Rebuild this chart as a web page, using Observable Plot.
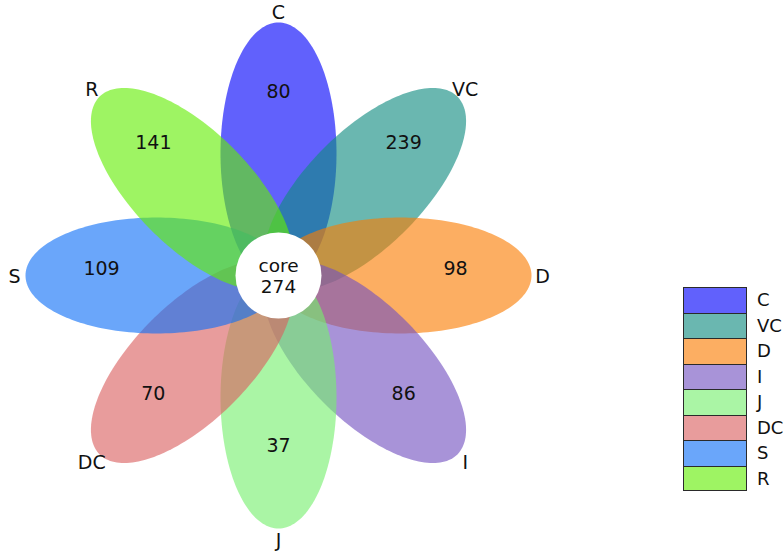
<!DOCTYPE html>
<html>
<head>
<meta charset="utf-8">
<script src="https://cdn.jsdelivr.net/npm/d3@7"></script>
<script src="https://cdn.jsdelivr.net/npm/@observablehq/plot@0.6"></script>
<style>
  html, body { margin: 0; padding: 0; background: #fff; }
  #wrap { position: relative; width: 783px; height: 552px; font-family: "DejaVu Sans", sans-serif; }
  #legend { position: absolute; left: 683px; top: 287px; }
  .row { display: flex; align-items: center; height: 25.5px; }
  .sw { box-sizing: border-box; width: 64px; height: 25.5px; border: 1.5px solid #2a2a2a; border-bottom: none; }
  .row:last-child .sw { border-bottom: 1.5px solid #2a2a2a; }
  .lab { margin-left: 10px; font-size: 18px; color: #111; }
</style>
</head>
<body>
<div id="wrap"><div id="legend"></div></div>
<script>
// Sets of the flower diagram, clockwise from the top
const sets = ["C", "VC", "D", "I", "J", "DC", "S", "R"];
// Elements unique to each set
const uniqueCounts = [80, 239, 98, 86, 37, 70, 109, 141];
// Elements shared by all sets
const coreLabel = "core";
const coreCount = 274;
// Petal colours (drawn translucent)
const petalColors = ["#0000fa", "#0f8b7f", "#fa7c02", "#7351c0", "#76ef6e", "#da5f5f", "#0f70f7", "#63ed03"];
const petalOpacity = 0.62;

// Petal geometry (pixel units)
const semiMajor = 131, semiMinor = 58, petalOffset = 122;
const coreRadius = 43, countRadius = 177, countLift = 7, nameRadius = 264;

const angleOf = i => (90 - 45 * i) * Math.PI / 180;

// Outline of each petal as a rotated ellipse
const petals = sets.map((s, i) => {
  const th = angleOf(i), c = Math.cos(th), sn = Math.sin(th);
  return d3.range(0, 181).map(k => {
    const t = (k / 180) * 2 * Math.PI;
    const u = petalOffset + semiMajor * Math.cos(t), v = semiMinor * Math.sin(t);
    return {set: s, x: u * c - v * sn, y: u * sn + v * c};
  });
});

const counts = sets.map((s, i) => ({
  set: s, n: uniqueCounts[i],
  x: countRadius * Math.cos(angleOf(i)), y: countRadius * Math.sin(angleOf(i)) + countLift
}));
const names = sets.map((s, i) => ({
  set: s,
  x: nameRadius * Math.cos(angleOf(i)), y: nameRadius * Math.sin(angleOf(i)) - 1
}));

const font = "DejaVu Sans";
const chart = Plot.plot({
  width: 783, height: 552,
  margin: 0,
  style: {background: "transparent", fontFamily: font},
  x: {domain: [-278, 505], axis: null},
  y: {domain: [-277, 275], axis: null},
  marks: [
    ...petals.map((p, i) => Plot.line(p, {
      x: "x", y: "y", curve: "linear-closed",
      fill: petalColors[i], fillOpacity: petalOpacity, stroke: "none"
    })),
    Plot.dot([{x: 0, y: 0}], {x: "x", y: "y", r: coreRadius, fill: "white", stroke: "none"}),
    Plot.text([coreLabel], {x: 0, y: 0, text: d => d, dy: -9, fontSize: 18.5, fill: "#111"}),
    Plot.text([coreCount], {x: 0, y: 0, text: d => String(d), dy: 12, fontSize: 18.5, fill: "#111"}),
    Plot.text(counts, {x: "x", y: "y", text: d => String(d.n), fontSize: 19, fill: "#111"}),
    Plot.text(names, {x: "x", y: "y", text: "set", fontSize: 19, fill: "#111"})
  ]
});
document.getElementById("wrap").prepend(chart);

// Stacked swatch legend
const legend = document.getElementById("legend");
sets.forEach((s, i) => {
  const row = document.createElement("div");
  row.className = "row";
  const sw = document.createElement("div");
  sw.className = "sw";
  const col = d3.color(petalColors[i]);
  const mix = v => Math.round(petalOpacity * v + (1 - petalOpacity) * 255);
  sw.style.background = `rgb(${mix(col.r)},${mix(col.g)},${mix(col.b)})`;
  const lab = document.createElement("span");
  lab.className = "lab";
  lab.textContent = s;
  row.append(sw, lab);
  legend.append(row);
});
</script>
</body>
</html>
